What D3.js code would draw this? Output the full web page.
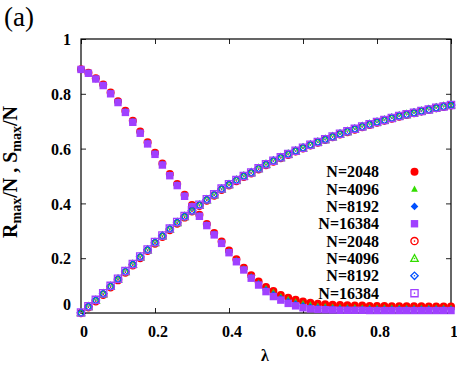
<!DOCTYPE html>
<html>
<head>
<meta charset="utf-8">
<script src="https://cdn.jsdelivr.net/npm/d3@7"></script>
<style>
  body { margin: 0; background: #fff; }
  svg text { font-family: "Liberation Serif", "Times New Roman", serif; }
</style>
</head>
<body>
<div id="chart"></div>
<script>
// lambda grid (51 points)
const lambdaVals = [0.00,0.02,0.04,0.06,0.08,0.10,0.12,0.14,0.16,0.18,
  0.20,0.22,0.24,0.26,0.28,0.30,0.32,0.34,0.36,0.38,
  0.40,0.42,0.44,0.46,0.48,0.50,0.52,0.54,0.56,0.58,
  0.60,0.62,0.64,0.66,0.68,0.70,0.72,0.74,0.76,0.78,
  0.80,0.82,0.84,0.86,0.88,0.90,0.92,0.94,0.96,0.98,1.00];

const sizeLabels = ["N=2048", "N=4096", "N=8192", "N=16384"];

// R_max/N (filled markers)
const rMax2048 = [0.890,0.877,0.857,0.834,0.805,0.773,0.738,0.702,0.662,0.623,
  0.585,0.546,0.507,0.471,0.432,0.394,0.359,0.325,0.292,0.261,
  0.228,0.196,0.165,0.138,0.115,0.095,0.080,0.066,0.056,0.048,
  0.042,0.037,0.034,0.032,0.030,0.029,0.028,0.027,0.027,0.026,
  0.026,0.026,0.025,0.025,0.025,0.025,0.025,0.024,0.024,0.024,0.024];
const rMax4096 = [0.889,0.876,0.856,0.832,0.803,0.771,0.736,0.700,0.660,0.621,
  0.583,0.544,0.505,0.469,0.430,0.392,0.357,0.323,0.289,0.258,
  0.225,0.193,0.162,0.133,0.110,0.090,0.076,0.060,0.050,0.041,
  0.035,0.030,0.026,0.024,0.022,0.021,0.020,0.020,0.019,0.019,
  0.019,0.019,0.019,0.019,0.018,0.018,0.018,0.018,0.018,0.018,0.018];
const rMax8192 = [0.889,0.875,0.855,0.831,0.802,0.770,0.734,0.698,0.658,0.619,
  0.581,0.542,0.503,0.467,0.428,0.390,0.355,0.321,0.287,0.256,
  0.222,0.190,0.159,0.130,0.106,0.084,0.067,0.053,0.042,0.033,
  0.026,0.021,0.018,0.016,0.015,0.014,0.014,0.013,0.013,0.013,
  0.013,0.013,0.013,0.013,0.013,0.013,0.013,0.013,0.013,0.013,0.013];
const rMax16384 = [0.889,0.875,0.854,0.830,0.800,0.768,0.732,0.696,0.656,0.617,
  0.579,0.540,0.501,0.465,0.426,0.388,0.353,0.319,0.285,0.254,
  0.220,0.187,0.157,0.127,0.102,0.078,0.060,0.047,0.035,0.026,
  0.019,0.015,0.013,0.012,0.011,0.010,0.010,0.010,0.010,0.009,
  0.009,0.009,0.009,0.009,0.009,0.009,0.009,0.009,0.009,0.009,0.009];

// S_max/N (open markers)
const sMax2048 = [0.000,0.021,0.043,0.067,0.094,0.120,0.148,0.174,0.201,0.227,
  0.254,0.278,0.303,0.327,0.349,0.371,0.391,0.411,0.429,0.450,
  0.466,0.482,0.497,0.510,0.525,0.540,0.553,0.566,0.578,0.590,
  0.601,0.612,0.622,0.632,0.642,0.652,0.661,0.670,0.679,0.687,
  0.695,0.703,0.710,0.717,0.724,0.730,0.736,0.742,0.748,0.753,0.758];
const sMax4096 = [0.001,0.023,0.046,0.070,0.097,0.123,0.151,0.177,0.204,0.230,
  0.257,0.281,0.306,0.330,0.352,0.373,0.393,0.413,0.431,0.452,
  0.468,0.484,0.499,0.512,0.527,0.542,0.555,0.567,0.579,0.591,
  0.602,0.613,0.623,0.633,0.643,0.653,0.662,0.671,0.680,0.688,
  0.696,0.703,0.711,0.718,0.724,0.730,0.736,0.742,0.748,0.754,0.759];
const sMax8192 = [0.001,0.024,0.047,0.071,0.098,0.124,0.152,0.178,0.205,0.231,
  0.258,0.282,0.307,0.331,0.353,0.374,0.394,0.414,0.432,0.453,
  0.469,0.485,0.500,0.513,0.528,0.543,0.556,0.568,0.580,0.592,
  0.603,0.614,0.624,0.634,0.644,0.654,0.663,0.672,0.681,0.689,
  0.697,0.704,0.712,0.719,0.725,0.731,0.737,0.743,0.749,0.754,0.759];
const sMax16384 = [0.002,0.025,0.048,0.072,0.099,0.125,0.153,0.179,0.206,0.232,
  0.259,0.283,0.308,0.332,0.354,0.375,0.395,0.415,0.433,0.454,
  0.470,0.485,0.500,0.513,0.528,0.543,0.556,0.568,0.580,0.592,
  0.603,0.614,0.624,0.634,0.644,0.654,0.663,0.672,0.681,0.689,
  0.697,0.704,0.712,0.719,0.725,0.731,0.737,0.743,0.749,0.754,0.759];

const tickVals = [0, 0.2, 0.4, 0.6, 0.8, 1];
const tickLabels = ["0", "0.2", "0.4", "0.6", "0.8", "1"];

const colors = ["#ff0000", "#33dd00", "#0050ff", "#a040ff"];
const shapes = ["circle", "triangle", "diamond", "square"];

const width = 457, height = 368;
const margin = { left: 81, right: 6, top: 39, bottom: 55 };
const serif = "'Liberation Serif', 'Times New Roman', serif";

const svg = d3.select("#chart").append("svg")
    .attr("width", width)
    .attr("height", height);

const x = d3.scaleLinear().domain([0, 1]).range([margin.left, width - margin.right]);
const y = d3.scaleLinear().domain([0, 1]).range([height - margin.bottom, margin.top]);

// marker path for a given shape, centred on 0,0
function markerPath(shape, s) {
    if (shape === "circle") {
        const r = s;
        return `M${-r},0A${r},${r} 0 1,0 ${r},0A${r},${r} 0 1,0 ${-r},0Z`;
    }
    if (shape === "triangle") {
        return `M0,${-s}L${s * 0.95},${s * 0.75}L${-s * 0.95},${s * 0.75}Z`;
    }
    if (shape === "diamond") {
        return `M0,${-s}L${s},0L0,${s}L${-s},0Z`;
    }
    return `M${-s},${-s}H${s}V${s}H${-s}Z`;
}

const filledSize = { circle: 4, triangle: 3.5, diamond: 3.8, square: 3.7 };
const openSize = { circle: 3.6, triangle: 3.9, diamond: 3.7, square: 3.6 };

function drawMarker(g, shape, color, filled, cx, cy) {
    const s = filled ? filledSize[shape] : openSize[shape];
    const m = g.append("g").attr("transform", `translate(${cx},${cy})`);
    m.append("path")
        .attr("d", markerPath(shape, s))
        .attr("fill", filled ? color : "none")
        .attr("stroke", filled ? "none" : color)
        .attr("stroke-width", 1.3);
    if (!filled) {
        m.append("circle").attr("r", 0.8).attr("fill", color);
    }
}

// frame + ticks
const axisG = svg.append("g");

const xAxis = d3.axisBottom(x).tickValues(tickVals)
    .tickFormat((d, i) => tickLabels[i]).tickSizeInner(-5).tickSizeOuter(0);
const xTop = d3.axisTop(x).tickValues(tickVals).tickFormat("").tickSizeInner(-5).tickSizeOuter(0);
const yAxis = d3.axisLeft(y).tickValues(tickVals)
    .tickFormat((d, i) => tickLabels[i]).tickSizeInner(-5).tickSizeOuter(0);
const yRight = d3.axisRight(y).tickValues(tickVals).tickFormat("").tickSizeInner(-5).tickSizeOuter(0);

const gx = axisG.append("g").attr("transform", `translate(0,${y(0)})`).call(xAxis);
axisG.append("g").attr("transform", `translate(0,${y(1)})`).call(xTop);
const gy = axisG.append("g").attr("transform", `translate(${x(0)},0)`).call(yAxis);
axisG.append("g").attr("transform", `translate(${x(1)},0)`).call(yRight);

axisG.selectAll(".domain").remove();
axisG.selectAll("g").attr("font-family", serif).attr("font-size", 16).attr("font-weight", "bold");
axisG.selectAll(".tick line").attr("stroke", "#222");

gx.selectAll(".tick text")
    .attr("y", 24).attr("dy", 0).attr("dx", 2.5)
    .attr("fill", "#000");
gy.selectAll(".tick text")
    .attr("x", -10).attr("dy", (d) => d === 0 ? "-0.2em" : "0.35em")
    .attr("fill", "#000");

svg.append("rect")
    .attr("x", x(0)).attr("y", y(1))
    .attr("width", x(1) - x(0)).attr("height", y(0) - y(1))
    .attr("fill", "none").attr("stroke", "#000").attr("stroke-width", 1.2);

// series
const rSeries = [rMax2048, rMax4096, rMax8192, rMax16384];
const sSeries = [sMax2048, sMax4096, sMax8192, sMax16384];
const plotG = svg.append("g");

rSeries.forEach((vals, k) => {
    vals.forEach((v, i) => drawMarker(plotG, shapes[k], colors[k], true, x(lambdaVals[i]), y(v)));
});
sSeries.forEach((vals, k) => {
    vals.forEach((v, i) => drawMarker(plotG, shapes[k], colors[k], false, x(lambdaVals[i]), y(v)));
});

// legend
const legendG = svg.append("g");
const legendEntries = sizeLabels.map((l, k) => ({ label: l, k: k, filled: true }))
    .concat(sizeLabels.map((l, k) => ({ label: l, k: k, filled: false })));
legendEntries.forEach((e, i) => {
    const cy = 171.7 + i * 17.35;
    legendG.append("text")
        .attr("x", 379).attr("y", cy + 5.6)
        .attr("text-anchor", "end")
        .style("font-size", "16px").style("font-weight", "bold")
        .text(e.label);
    drawMarker(legendG, shapes[e.k], colors[e.k], e.filled, 414.5, cy);
});

// labels
svg.append("text")
    .attr("x", 4).attr("y", 26)
    .style("font-size", "27px")
    .text("(a)");

svg.append("text")
    .attr("x", 265).attr("y", 361)
    .attr("text-anchor", "middle")
    .style("font-size", "16px").style("font-weight", "bold")
    .text("λ");

const yLab = svg.append("text")
    .attr("transform", "translate(17,172) rotate(-90)")
    .attr("text-anchor", "middle")
    .style("font-size", "20px").style("font-weight", "bold");
yLab.append("tspan").text("R");
yLab.append("tspan").attr("dy", 4).style("font-size", "14px").text("max");
yLab.append("tspan").attr("dy", -4).text("/N , S");
yLab.append("tspan").attr("dy", 4).style("font-size", "14px").text("max");
yLab.append("tspan").attr("dy", -4).text("/N");
</script>
</body>
</html>
